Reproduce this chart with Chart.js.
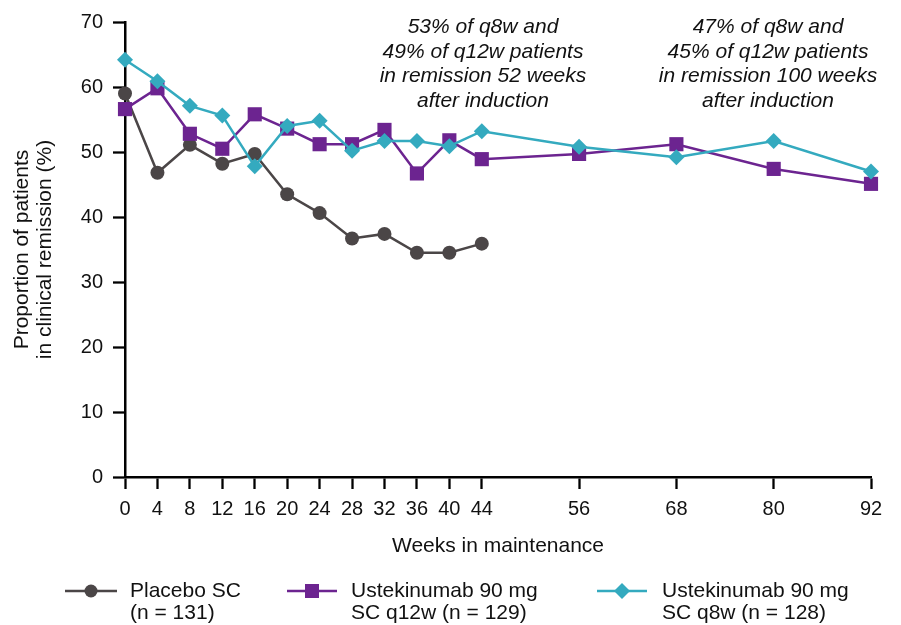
<!DOCTYPE html>
<html>
<head>
<meta charset="utf-8">
<script src="https://cdn.jsdelivr.net/npm/chart.js@4.4.1/dist/chart.umd.min.js"></script>
<style>
  html, body { margin: 0; padding: 0; background: #fff; }
  #wrap { position: relative; width: 901px; height: 625px; }
</style>
</head>
<body>
<div id="wrap"><canvas id="c" width="901" height="625"></canvas></div>
<script>
const weeksPlacebo = [0, 4, 8, 12, 16, 20, 24, 28, 32, 36, 40, 44];
const weeksActive = [0, 4, 8, 12, 16, 20, 24, 28, 32, 36, 40, 44, 56, 68, 80, 92];
const placeboValues = [59.0, 46.8, 51.1, 48.2, 49.7, 43.5, 40.6, 36.7, 37.4, 34.5, 34.5, 35.9];
const q12wValues = [56.6, 59.8, 52.8, 50.5, 55.8, 53.6, 51.2, 51.2, 53.4, 46.7, 51.8, 48.9, 49.7, 51.2, 47.4, 45.1];
const q8wValues = [64.2, 60.9, 57.1, 55.6, 47.8, 54.0, 54.8, 50.2, 51.7, 51.7, 50.9, 53.2, 50.8, 49.2, 51.7, 47.0];
const xTickValues = [0, 4, 8, 12, 16, 20, 24, 28, 32, 36, 40, 44, 56, 68, 80, 92];
const yTickValues = [0, 10, 20, 30, 40, 50, 60, 70];
const seriesNames = ['Placebo SC', 'Ustekinumab 90 mg SC q12w', 'Ustekinumab 90 mg SC q8w'];
const legendLines = [['Placebo SC', '(n = 131)'], ['Ustekinumab 90 mg', 'SC q12w (n = 129)'], ['Ustekinumab 90 mg', 'SC q8w (n = 128)']];
const annotation52 = ['53% of q8w and', '49% of q12w patients', 'in remission 52 weeks', 'after induction'];
const annotation100 = ['47% of q8w and', '45% of q12w patients', 'in remission 100 weeks', 'after induction'];

const COL_PLA = '#4b4647';
const COL_Q12 = '#6c2490';
const COL_Q8 = '#34aabf';
const FONT = '"Liberation Sans", Arial, Helvetica, sans-serif';

function pts(xs, ys) { return xs.map((x, i) => ({ x: x, y: ys[i] })); }

const extras = {
  id: 'extras',
  afterDraw(chart) {
    const ctx = chart.ctx;
    ctx.save();
    // annotations
    ctx.fillStyle = '#111';
    ctx.font = 'italic 21px ' + FONT;
    ctx.textAlign = 'center';
    ctx.textBaseline = 'middle';
    const drawBlock = (lines, cx, y0) => {
      lines.forEach((t, i) => ctx.fillText(t, cx, y0 + i * 24.7));
    };
    drawBlock(annotation52, 483, 27);
    drawBlock(annotation100, 768, 27);

    // legend
    const items = [
      { col: COL_PLA, style: 'circle', x0: 65, x1: 117, mx: 91, tx: 130 },
      { col: COL_Q12, style: 'rect', x0: 287, x1: 337, mx: 312, tx: 351 },
      { col: COL_Q8, style: 'diamond', x0: 597, x1: 647, mx: 622, tx: 662 }
    ];
    const ly = 591;
    items.forEach((it, i) => {
      ctx.strokeStyle = it.col;
      ctx.lineWidth = 2.5;
      ctx.beginPath();
      ctx.moveTo(it.x0, ly);
      ctx.lineTo(it.x1, ly);
      ctx.stroke();
      ctx.fillStyle = it.col;
      ctx.beginPath();
      if (it.style === 'circle') {
        ctx.arc(it.mx, ly, 6.5, 0, Math.PI * 2);
      } else if (it.style === 'rect') {
        ctx.rect(it.mx - 7, ly - 7, 14, 14);
      } else {
        ctx.moveTo(it.mx, ly - 8);
        ctx.lineTo(it.mx + 8, ly);
        ctx.lineTo(it.mx, ly + 8);
        ctx.lineTo(it.mx - 8, ly);
        ctx.closePath();
      }
      ctx.fill();
      ctx.fillStyle = '#111';
      ctx.font = '21px ' + FONT;
      ctx.textAlign = 'left';
      ctx.textBaseline = 'middle';
      ctx.fillText(legendLines[i][0], it.tx, ly);
      ctx.fillText(legendLines[i][1], it.tx, ly + 22.5);
    });
    ctx.restore();
  }
};

new Chart(document.getElementById('c'), {
  type: 'line',
  data: {
    datasets: [
      {
        label: seriesNames[0],
        data: pts(weeksPlacebo, placeboValues),
        borderColor: COL_PLA, backgroundColor: COL_PLA,
        borderWidth: 2.5, pointStyle: 'circle', pointRadius: 7, pointHoverRadius: 7,
        pointBorderWidth: 0, tension: 0, clip: false, order: 3
      },
      {
        label: seriesNames[1],
        data: pts(weeksActive, q12wValues),
        borderColor: COL_Q12, backgroundColor: COL_Q12,
        borderWidth: 2.5, pointStyle: 'rect', pointRadius: 10, pointHoverRadius: 10,
        pointBorderWidth: 0, tension: 0, clip: false, order: 2
      },
      {
        label: seriesNames[2],
        data: pts(weeksActive, q8wValues),
        borderColor: COL_Q8, backgroundColor: COL_Q8,
        borderWidth: 2.5, pointStyle: 'rectRot', pointRadius: 8, pointHoverRadius: 8,
        pointBorderWidth: 0, tension: 0, clip: false, order: 1
      }
    ]
  },
  options: {
    responsive: false,
    animation: false,
    events: [],
    layout: { padding: { left: 0, right: 30, top: 22, bottom: 0 } },
    plugins: { legend: { display: false }, tooltip: { enabled: false } },
    scales: {
      x: {
        type: 'linear', min: 0, max: 92,
        afterBuildTicks: (s) => { s.ticks = xTickValues.map(v => ({ value: v })); },
        afterFit: (s) => { s.height = 148; },
        grid: { display: true, drawOnChartArea: false, drawTicks: true, tickLength: 12, tickWidth: 2.3, tickColor: '#000' },
        border: { display: true, color: '#000', width: 2.5 },
        ticks: { color: '#111', font: { family: FONT, size: 20 }, padding: 8, maxRotation: 0, autoSkip: false },
        title: { display: true, text: 'Weeks in maintenance', color: '#111', font: { family: FONT, size: 21 }, padding: { top: 0, bottom: 66 } }
      },
      y: {
        type: 'linear', min: 0, max: 70,
        afterBuildTicks: (s) => { s.ticks = yTickValues.map(v => ({ value: v })); },
        afterFit: (s) => { s.width = 125; },
        grid: { display: true, drawOnChartArea: false, drawTicks: true, tickLength: 12, tickWidth: 2.3, tickColor: '#000' },
        border: { display: true, color: '#000', width: 2.5 },
        ticks: { color: '#111', font: { family: FONT, size: 20 }, padding: 10 },
        title: { display: true, text: ['Proportion of patients', 'in clinical remission (%)'], color: '#111', font: { family: FONT, size: 21, lineHeight: 1.1 }, padding: { top: 11, bottom: 0 } }
      }
    }
  },
  plugins: [extras]
});
</script>
</body>
</html>
